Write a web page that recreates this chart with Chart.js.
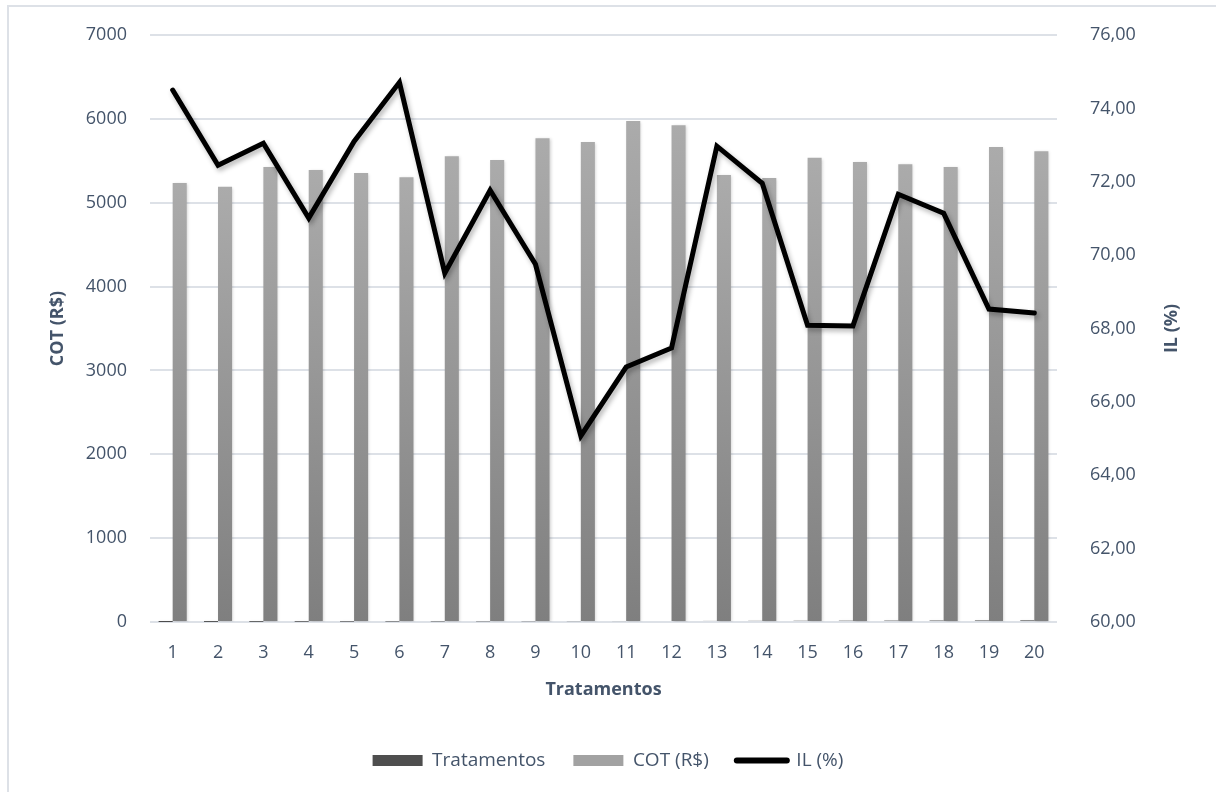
<!DOCTYPE html>
<html>
<head>
<meta charset="utf-8">
<script src="https://cdn.jsdelivr.net/npm/chart.js@4"></script>
<style>
  html, body { margin: 0; padding: 0; background: #fff; }
  #wrap { width: 1216px; height: 792px; }
</style>
</head>
<body>
<div id="wrap"><canvas id="myChart" width="1216" height="792"></canvas></div>
<script>
var categories = ["1","2","3","4","5","6","7","8","9","10","11","12","13","14","15","16","17","18","19","20"];
var tratValues = [1,2,3,4,5,6,7,8,9,10,11,12,13,14,15,16,17,18,19,20];
var cotValues = [5235, 5190, 5425, 5390, 5355, 5305, 5555, 5510, 5770, 5725,
                 5975, 5925, 5330, 5295, 5535, 5485, 5460, 5425, 5665, 5615];
var ilValues = [74.50, 72.45, 73.05, 71.01, 73.10, 74.71, 69.51, 71.77, 69.75, 65.07,
                66.95, 67.47, 72.97, 71.96, 68.09, 68.07, 71.66, 71.14, 68.53, 68.42];
var leftTicks = [0, 7000, 1000];
var rightTicks = [60, 76, 2];

var textColor = "#44546a";
var gridColor = "#dde1e7";
var fontFamily = "'Open Sans', 'Noto Sans', sans-serif";

function barGradient(light, dark) {
  return function (ctx) {
    var chart = ctx.chart;
    var area = chart.chartArea;
    if (!area || ctx.type !== "data") return dark;
    var y = chart.scales.y;
    var top = y.getPixelForValue(ctx.parsed ? ctx.parsed.y : 0);
    var bottom = y.getPixelForValue(0);
    if (!(bottom - top > 1)) return dark;
    var g = chart.ctx.createLinearGradient(0, top, 0, bottom);
    g.addColorStop(0, light);
    g.addColorStop(1, dark);
    return g;
  };
}

var frame = {
  id: "frame",
  beforeDraw: function (chart) {
    var c = chart.ctx;
    c.save();
    c.fillStyle = "#fff";
    c.fillRect(0, 0, chart.width, chart.height);
    c.strokeStyle = "#dde1e7";
    c.lineWidth = 2;
    c.beginPath();
    c.moveTo(8, chart.height);
    c.lineTo(8, 6);
    c.lineTo(chart.width, 6);
    c.stroke();
    c.restore();
  },
  beforeDatasetDraw: function (chart, args) {
    var c = chart.ctx;
    c.save();
    if (args.index === 2) {
      c.shadowColor = "rgba(0,0,0,0.3)";
      c.shadowBlur = 5;
      c.shadowOffsetX = 2;
      c.shadowOffsetY = 3;
    } else {
      c.shadowColor = "rgba(0,0,0,0.18)";
      c.shadowBlur = 3;
      c.shadowOffsetX = 1;
      c.shadowOffsetY = 1;
    }
  },
  afterDatasetDraw: function (chart) {
    chart.ctx.restore();
  },
  afterDraw: function (chart) {
    var c = chart.ctx;
    var a = chart.chartArea;
    c.save();
    c.translate(1172, (a.top + a.bottom) / 2);
    c.rotate(-Math.PI / 2);
    c.fillStyle = textColor;
    c.font = "bold 18px " + fontFamily;
    c.textAlign = "center";
    c.textBaseline = "middle";
    c.fillText("IL (%)", 0, 0);
    c.restore();
  }
};

new Chart("myChart", {
  type: "bar",
  data: {
    labels: categories,
    datasets: [{
      label: "Tratamentos",
      data: tratValues,
      yAxisID: "y",
      backgroundColor: barGradient("#5c5c5c", "#3f3f3f"),
      order: 1
    }, {
      label: "COT (R$)",
      data: cotValues,
      yAxisID: "y",
      backgroundColor: barGradient("#ababab", "#7f7f7f"),
      order: 1
    }, {
      type: "line",
      label: "IL (%)",
      data: ilValues,
      yAxisID: "y1",
      borderColor: "#000",
      borderWidth: 5,
      pointRadius: 0,
      tension: 0,
      borderCapStyle: "round",
      borderJoinStyle: "miter",
      order: 0
    }]
  },
  options: {
    responsive: false,
    animation: false,
    layout: { padding: { top: 35, left: 0, right: 0, bottom: 12 } },
    datasets: { bar: { categoryPercentage: 0.62, barPercentage: 1 } },
    plugins: {
      tooltip: { enabled: false },
      legend: {
        position: "bottom",
        labels: {
          color: textColor,
          font: { family: fontFamily, size: 19 },
          usePointStyle: true,
          pointStyleWidth: 50,
          boxHeight: 11,
          padding: 28,
          generateLabels: function (chart) {
            return [
              { text: "Tratamentos", fillStyle: "#4e4e4e", strokeStyle: "#4e4e4e", lineWidth: 0, pointStyle: "rect", datasetIndex: 0, fontColor: textColor },
              { text: "COT (R$)", fillStyle: "#a2a2a2", strokeStyle: "#a2a2a2", lineWidth: 0, pointStyle: "rect", datasetIndex: 1, fontColor: textColor },
              { text: "IL (%)", fillStyle: "#000", strokeStyle: "#000", lineWidth: 6, lineCap: "round", pointStyle: "line", datasetIndex: 2, fontColor: textColor }
            ];
          }
        }
      }
    },
    scales: {
      x: {
        grid: { display: false },
        border: { display: false },
        ticks: { color: textColor, font: { family: fontFamily, size: 18 }, padding: 12, maxRotation: 0 },
        title: { display: true, text: "Tratamentos", color: textColor, font: { family: fontFamily, size: 18, weight: "bold" }, padding: { top: 22, bottom: 22 } },
        afterFit: function (s) { s.height = 101; }
      },
      y: {
        position: "left",
        min: leftTicks[0],
        max: leftTicks[1],
        ticks: {
          stepSize: leftTicks[2],
          color: textColor,
          font: { family: fontFamily, size: 18 },
          padding: 23,
          callback: function (v) { return String(v); }
        },
        grid: { color: gridColor, lineWidth: 2, drawTicks: false },
        border: { display: false },
        title: { display: true, text: "COT (R$)", color: textColor, font: { family: fontFamily, size: 18, weight: "bold" }, padding: { top: 47, bottom: 0 } },
        afterFit: function (s) { s.width = 150; s.paddingTop = 0; s.paddingBottom = 0; }
      },
      y1: {
        position: "right",
        min: rightTicks[0],
        max: rightTicks[1],
        ticks: {
          stepSize: rightTicks[2],
          color: textColor,
          font: { family: fontFamily, size: 18 },
          padding: 33,
          callback: function (v) { return v.toFixed(2).replace(".", ","); }
        },
        grid: { display: false, drawTicks: false },
        border: { display: false },
        afterFit: function (s) { s.width = 159; s.paddingTop = 0; s.paddingBottom = 0; }
      }
    }
  },
  plugins: [frame]
});
</script>
</body>
</html>
